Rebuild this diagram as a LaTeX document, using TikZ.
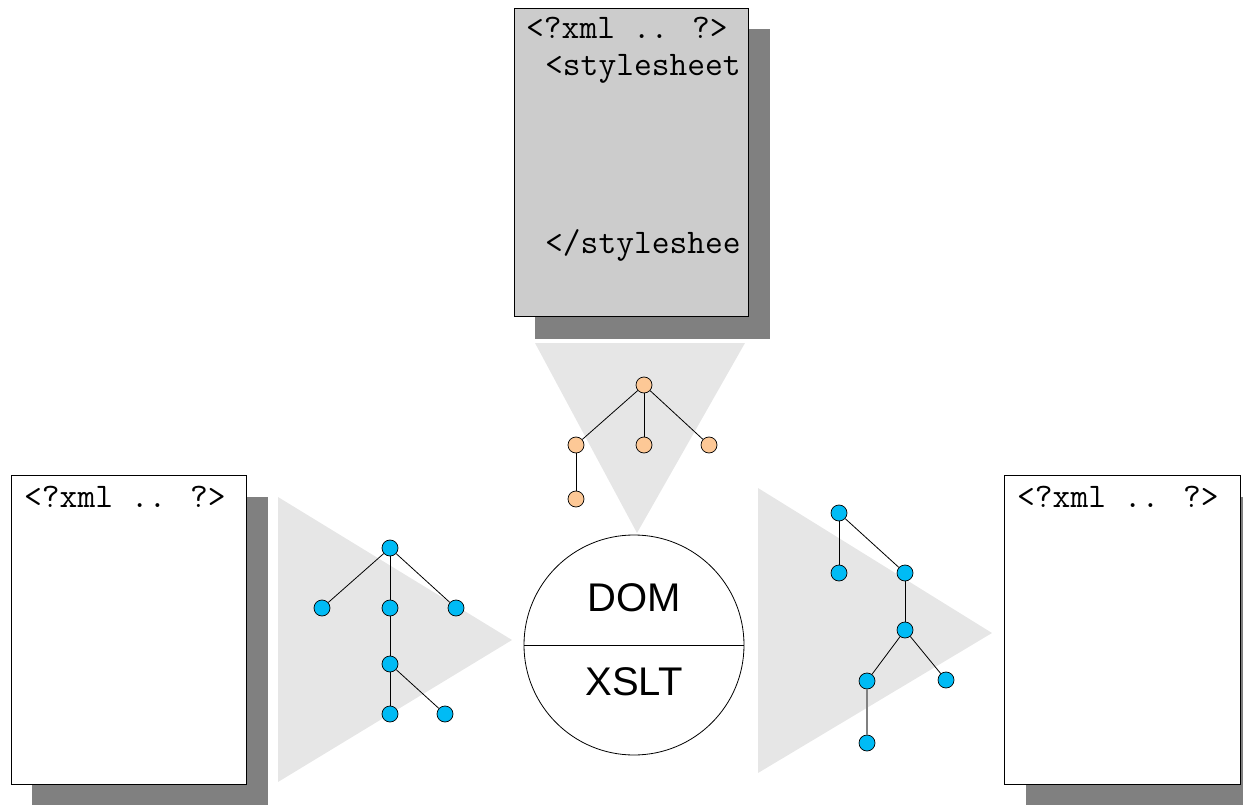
\documentclass[tikz,border=0pt]{standalone}
\usepackage{fontspec}
\setmainfont{Liberation Sans}
\definecolor{shadowgray}{RGB}{128,128,128}
\definecolor{trigray}{RGB}{230,230,230}
\definecolor{docgray}{RGB}{204,204,204}
\definecolor{nodeblue}{RGB}{0,187,245}
\definecolor{nodeorange}{RGB}{253,200,150}
\begin{document}
\begin{tikzpicture}[x=1pt,y=-1pt,
  shadowbox/.style={fill=shadowgray},
  docbox/.style={draw=black,line width=0.8pt},
  tri/.style={fill=trigray},
  codetext/.style={anchor=base west,inner sep=0pt,font=\ttfamily\fontsize{34.5}{40}\selectfont},
  bnode/.style={circle,draw=black,line width=0.7pt,fill=nodeblue,minimum size=16pt,inner sep=0pt},
  onode/.style={circle,draw=black,line width=0.7pt,fill=nodeorange,minimum size=16pt,inner sep=0pt},
  edge/.style={draw=black,line width=0.8pt},
  bigtext/.style={font=\fontsize{40}{48}\selectfont,inner sep=0pt}]
\useasboundingbox (0,0) rectangle (1243,805);
% triangles
\fill[tri] (535,343) -- (745,343) -- (637,533) -- cycle;
\fill[tri] (278,497) -- (278,782) -- (512,640) -- cycle;
\fill[tri] (758,488) -- (758,773) -- (992,633) -- cycle;
% top document
\fill[shadowbox] (535,29) rectangle (770,339);
\draw[docbox,fill=docgray] (514,8) rectangle (748,316);
\node[codetext] (t1) at (526,39) {<?xml .. ?>};
\node[codetext] (t2) at (545,76) {<stylesheet};
\node[codetext] (t3) at (545,254) {</styleshee};
% left document
\fill[shadowbox] (32,497) rectangle (268,805);
\draw[docbox,fill=white] (11,475) rectangle (246,784);
\node[codetext] (l1) at (24,507) {<?xml .. ?>};
% right document
\fill[shadowbox] (1026,497) rectangle (1243,805);
\draw[docbox,fill=white] (1004,475) rectangle (1240,784);
\node[codetext] (r1) at (1017,507) {<?xml .. ?>};
% circle
\draw[line width=0.8pt,fill=white] (634,645) circle (110);
\coordinate (cl) at (524,645);
\coordinate (cr) at (744,645);
\draw[line width=0.8pt] (cl) -- (cr);
\node[bigtext] (dom) at (634,598) {DOM};
\node[bigtext] (xslt) at (634,682) {XSLT};
% orange tree
\node[onode] (o0) at (644,385) {};
\node[onode] (o1) at (576,445) {};
\node[onode] (o2) at (644,445) {};
\node[onode] (o3) at (709,445) {};
\node[onode] (o4) at (576,499) {};
\draw[edge] (o0) -- (o1); \draw[edge] (o0) -- (o2); \draw[edge] (o0) -- (o3);
\draw[edge] (o1) -- (o4);
% left blue tree
\node[bnode] (a0) at (390,548) {};
\node[bnode] (a1) at (322,608) {};
\node[bnode] (a2) at (390,608) {};
\node[bnode] (a3) at (456,608) {};
\node[bnode] (a4) at (390,664) {};
\node[bnode] (a5) at (390,714) {};
\node[bnode] (a6) at (445,714) {};
\draw[edge] (a0) -- (a1); \draw[edge] (a0) -- (a2); \draw[edge] (a0) -- (a3);
\draw[edge] (a2) -- (a4); \draw[edge] (a4) -- (a5); \draw[edge] (a4) -- (a6);
% right blue tree
\node[bnode] (b0) at (839,513) {};
\node[bnode] (b1) at (839,573) {};
\node[bnode] (b2) at (905,573) {};
\node[bnode] (b3) at (905,630) {};
\node[bnode] (b4) at (867,681) {};
\node[bnode] (b5) at (946,680) {};
\node[bnode] (b6) at (867,743) {};
\draw[edge] (b0) -- (b1); \draw[edge] (b0) -- (b2); \draw[edge] (b2) -- (b3);
\draw[edge] (b3) -- (b4); \draw[edge] (b3) -- (b5);
\draw[edge,draw=shadowgray,line width=1.2pt] (b4) -- (b6);
\end{tikzpicture}
\end{document}
